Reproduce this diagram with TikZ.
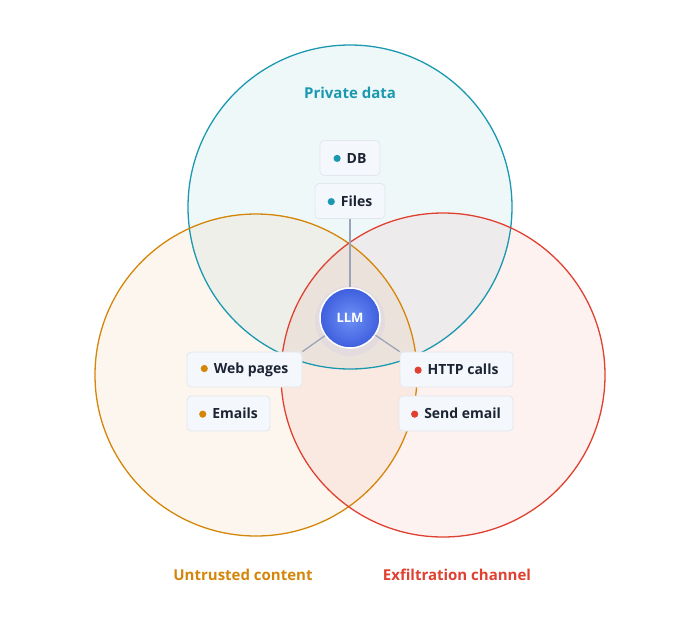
\documentclass[tikz,border=0pt]{standalone}
\usepackage{fontspec}
\setmainfont{Open Sans}
\usetikzlibrary{positioning}
\definecolor{privc}{HTML}{1A98B0}
\definecolor{untc}{HTML}{D4860B}
\definecolor{exfc}{HTML}{E04030}
\definecolor{boxfill}{HTML}{F4F7FB}
\definecolor{boxline}{HTML}{E2E7EE}
\definecolor{textc}{HTML}{1C2333}
\definecolor{linkc}{HTML}{9AA4B8}
\newcommand{\bul}[1]{\tikz[baseline=-4.6pt]\fill[#1] (0,0) circle (3.6pt);\hspace{6pt}}

\begin{document}
\begin{tikzpicture}[x=1pt, y=-1pt,
    set/.style={line width=1.3pt},
    item/.style={rectangle, rounded corners=4pt, draw=boxline, fill=boxfill, line width=0.8pt,
                 minimum height=35pt, text=textc, font=\fontsize{14}{16}\selectfont\bfseries},
    title/.style={font=\fontsize{15}{17}\selectfont\bfseries},
    link/.style={draw=linkc, line width=1.3pt}]
    \useasboundingbox (0,0) rectangle (700,643);

    % Sets
    \fill[privc, opacity=0.07] (350,207) circle (162);
    \fill[untc, opacity=0.07] (256,375) circle (161);
    \fill[exfc, opacity=0.07] (443,375) circle (162);
    \draw[set, privc] (350,207) circle (162);
    \draw[set, untc] (256,375) circle (161);
    \draw[set, exfc] (443,375) circle (162);

    \node[title, text=privc] (privt) at (350,93) {Private data};
    \node[title, text=untc] (untt) at (243,575) {Untrusted content};
    \node[title, text=exfc] (exft) at (457,575) {Exfiltration channel};

    % Items
    \node[item, minimum width=60pt] (db) at (350,158) {\bul{privc}DB};
    \node[item, minimum width=70pt] (files) at (350,201) {\bul{privc}Files};
    \node[item, minimum width=115pt] (web) at (244.5,369.5) {\bul{untc}Web pages};
    \node[item, minimum width=83pt] (mail) at (228.5,413.5) {\bul{untc}Emails};
    \node[item, minimum width=113pt] (http) at (456.5,369.5) {\bul{exfc}HTTP calls};
    \node[item, minimum width=114pt] (send) at (456,413.5) {\bul{exfc}Send email};

    % LLM
    \fill[blue!50, opacity=0.08] (350,321) circle (35);
    \node[circle, minimum size=60pt, draw=white, line width=1.5pt, inner color={rgb,255:red,110;green,145;blue,245},
          outer color={rgb,255:red,62;green,94;blue,222}, text=white, font=\fontsize{13}{15}\selectfont\bfseries] (llm) at (350,318) {LLM};

    % Connections
    \draw[link] (llm) -- (files.south);
    \draw[link] (llm) -- (web.north east);
    \draw[link] (llm) -- (http.north west);
\end{tikzpicture}
\end{document}
